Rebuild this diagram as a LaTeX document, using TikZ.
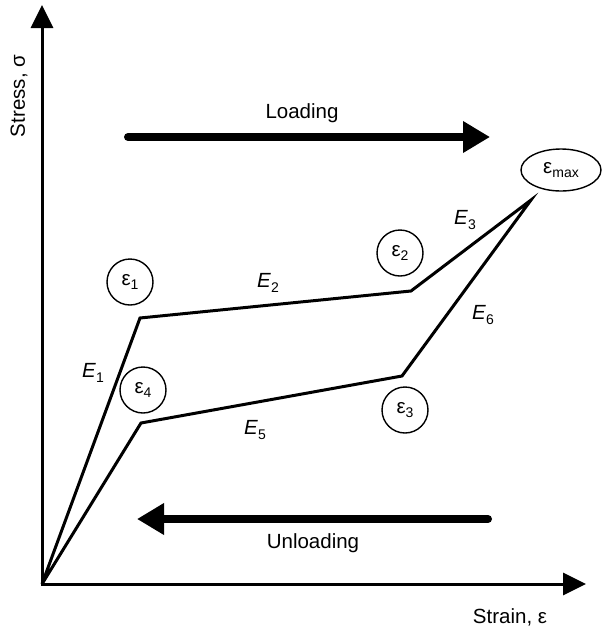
\documentclass[tikz,border=0pt]{standalone}
\usepackage{fontspec}
\setmainfont{Liberation Sans}
\usetikzlibrary{arrows.meta,shapes.geometric}
\newcommand\sbx[2]{#1\raisebox{-0.45ex}{\fontsize{14pt}{14pt}\selectfont #2}}
\begin{document}
\begin{tikzpicture}[x=1pt,y=-1pt,
  font=\fontsize{20.5pt}{24pt}\selectfont,
  axis/.style={line width=3pt,line join=miter},
  curve/.style={line width=3pt,line join=miter},
  bigarrow/.style={line width=8pt,line cap=round,-{Triangle[length=27pt,width=30pt]}},
  pt/.style={circle,draw,line width=1.4pt,minimum size=46pt,inner sep=0pt},
  ptell/.style={ellipse,draw,line width=1.4pt,minimum width=80pt,minimum height=42pt,inner sep=0pt},
  lbl/.style={inner sep=0pt}]
\useasboundingbox (0,0) rectangle (602,630);
% axes
\coordinate (O) at (42,584);
\coordinate (ytop) at (42,5);
\coordinate (xend) at (586,584);
\draw[axis,{Triangle[length=23pt,width=22pt]}-{Triangle[length=23pt,width=22pt]}] (ytop) -- (O) -- (xend);
% loop
\coordinate (P1) at (140,318);
\coordinate (P2) at (411,291);
\coordinate (Pm) at (531,200);
\coordinate (P3) at (402,376);
\coordinate (P4) at (141,423);
\draw[curve] (O) -- (P1) -- (P2) -- (Pm) -- (P3) -- (P4) -- (O);
% strain markers
\node[pt] (e1) at (130,282) {\sbx{ε}{1}};
\node[pt] (e2) at (400,253) {\sbx{ε}{2}};
\node[pt] (e3) at (405,410) {\sbx{ε}{3}};
\node[pt] (e4) at (143,390) {\sbx{ε}{4}};
\node[ptell] (em) at (561,170) {\sbx{ε}{max}};
% moduli
\node[lbl] (E1) at (93,373) {\sbx{\textit{E}}{1}};
\node[lbl] (E2) at (268,283) {\sbx{\textit{E}}{2}};
\node[lbl] (E3) at (465,220) {\sbx{\textit{E}}{3}};
\node[lbl] (E5) at (255,430) {\sbx{\textit{E}}{5}};
\node[lbl] (E6) at (483,315) {\sbx{\textit{E}}{6}};
% loading arrows
\node[lbl] (load) at (302,113) {Loading};
\coordinate (la) at (128,137);
\coordinate (lb) at (490,137);
\draw[bigarrow] (la) -- (lb);
\node[lbl] (unload) at (313,543) {Unloading};
\coordinate (ua) at (488,519);
\coordinate (ub) at (137,519);
\draw[bigarrow] (ua) -- (ub);
% axis labels
\node[lbl] (xl) at (510,617) {Strain, ε};
\node[lbl,rotate=90] (yl) at (19,96) {Stress, σ};
\end{tikzpicture}
\end{document}
